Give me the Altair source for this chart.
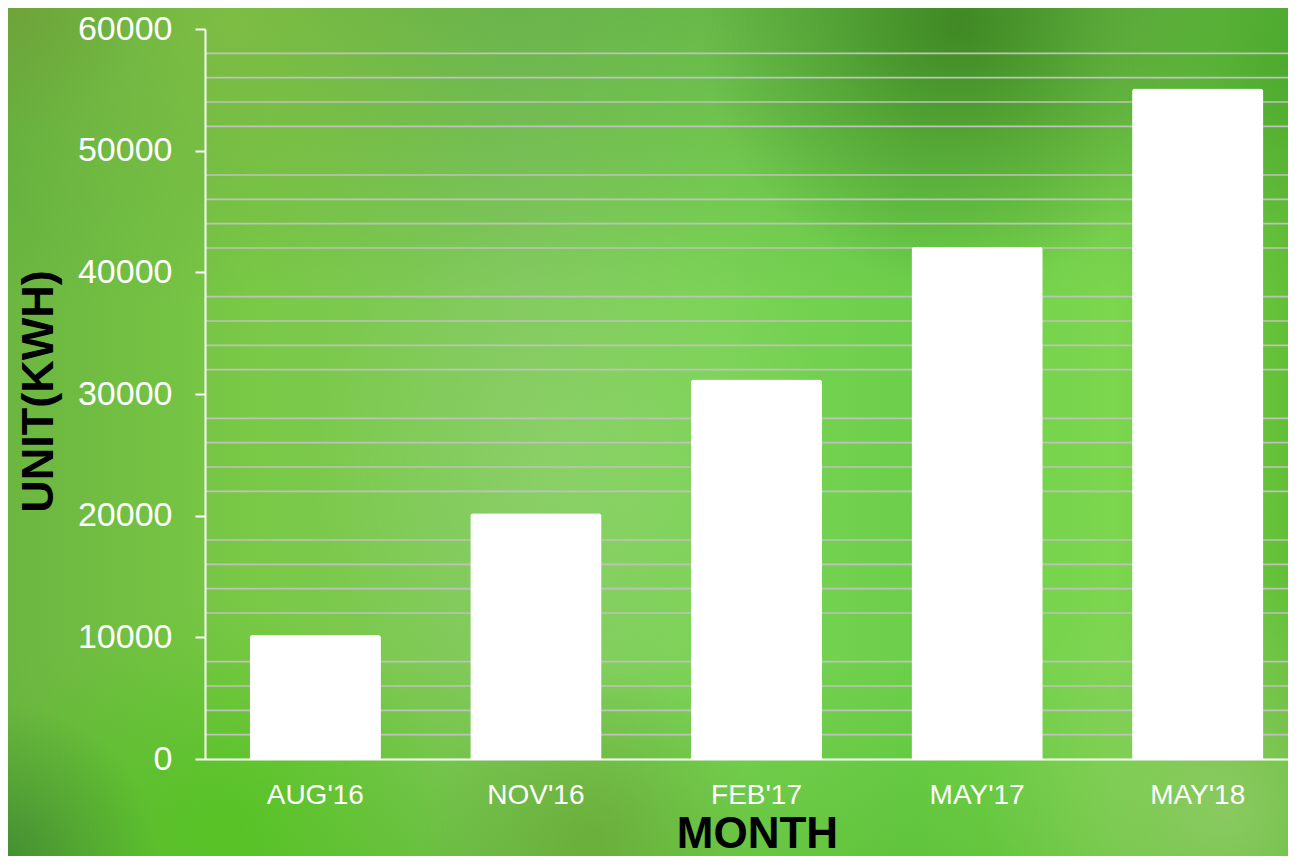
import altair as alt
import pandas as pd

# ---------------- data ----------------
months = ["AUG'16", "NOV'16", "FEB'17", "MAY'17", "MAY'18"]
units = [10200, 20200, 31200, 42100, 55100]
y_ticks = [0, 10000, 20000, 30000, 40000, 50000, 60000]
grid_values = [2000, 4000, 6000, 8000, 12000, 14000, 16000, 18000,
               22000, 24000, 26000, 28000, 32000, 34000, 36000, 38000,
               42000, 44000, 46000, 48000, 52000, 54000, 56000, 58000]

bars_df = pd.DataFrame({"month": months, "units": units})
grid_df = pd.DataFrame({"units": grid_values})
one = pd.DataFrame({"d": [0]})

FONT = "Liberation Sans"
OX, OY = 205, 29          # page coordinates of plot origin
PLOT_W, PLOT_H = 1083, 759 - 29

yscale = alt.Scale(domain=[0, 60000], nice=False, zero=True)
yaxis = alt.Axis(
    values=y_ticks, format="d", title="UNIT(KWH)", titleFont=FONT,
    titleFontSize=45, titleFontWeight="bold", titleColor="black",
    titleAngle=270, titleX=38 - OX, titleY=391 - OY,
    titleAlign="center", titleBaseline="middle",
    labelFont=FONT, labelFontSize=34, labelColor="white",
    labelPadding=23, tickSize=10, tickWidth=2, tickColor="white",
    domainColor="white", domainWidth=2, grid=False, zindex=1)


def deco(px0, py0, px1, py1, fill):
    """Decorative background rectangle given in page pixels."""
    return alt.Chart(one).mark_rect(color=fill, strokeWidth=0).encode(
        x=alt.value(px0 - OX), x2=alt.value(px1 - OX),
        y=alt.value(py0 - OY), y2=alt.value(py1 - OY),
    )


def spot(cx, cy, r, rgb, a):
    c_in = "rgba(%d,%d,%d,%.2f)" % (rgb + (a,))
    c_mid = "rgba(%d,%d,%d,%.2f)" % (rgb + (a * 0.45,))
    c_out = "rgba(%d,%d,%d,0)" % rgb
    g = alt.RadialGradient(
        gradient="radial", x1=0.5, y1=0.5, r1=0, x2=0.5, y2=0.5, r2=0.5,
        stops=[alt.GradientStop(offset=0, color=c_in),
               alt.GradientStop(offset=0.5, color=c_mid),
               alt.GradientStop(offset=1, color=c_out)])
    return deco(cx - r, cy - r, cx + r, cy + r, g)


def lin(stops, x1=0, y1=0, x2=1, y2=0):
    return alt.LinearGradient(
        gradient="linear", x1=x1, y1=y1, x2=x2, y2=y2,
        stops=[alt.GradientStop(offset=o, color=c) for o, c in stops])


background_layers = [
    deco(-10, -10, 1310, 880, lin([
        (0.0, "#6bb540"), (0.2, "#79c946"), (0.4, "#82c95e"),
        (0.55, "#7bd356"), (0.7, "#6ccf4a"), (0.85, "#7cd64e"), (1.0, "#5fbd33")])),
    deco(-10, -10, 1310, 880, lin([
        (0.0, "rgba(85,160,60,0.55)"), (0.35, "rgba(85,160,60,0)"),
        (1.0, "rgba(85,160,60,0)")], x1=0, y1=0, x2=0, y2=1)),
    deco(-10, -10, 1310, 880, lin([
        (0.0, "rgba(80,180,40,0)"), (0.75, "rgba(80,180,40,0)"),
        (1.0, "rgba(80,180,40,0.45)")], x1=0, y1=0, x2=0, y2=1)),
    spot(230, 20, 280, (140, 195, 70), 0.6),
    spot(0, 0, 140, (115, 160, 55), 0.8),
    spot(960, 25, 260, (55, 125, 28), 0.8),
    spot(1290, 60, 170, (65, 165, 38), 0.6),
    spot(575, 470, 260, (150, 215, 115), 0.45),
    spot(225, 830, 230, (80, 195, 30), 0.75),
    spot(0, 864, 160, (60, 130, 50), 0.8),
    spot(590, 840, 170, (105, 160, 50), 0.6),
    spot(1225, 810, 240, (155, 205, 115), 0.7),
]

grid = alt.Chart(grid_df).mark_rule(color="#bfc2bb", strokeWidth=1.6).encode(
    y=alt.Y("units:Q", scale=yscale, axis=yaxis),
    x=alt.value(0), x2=alt.value(1296 - OX),
)

bars = alt.Chart(bars_df).mark_bar(
    color="white", cornerRadiusTopLeft=3, cornerRadiusTopRight=3
).encode(
    x=alt.X("month:N", sort=months,
            scale=alt.Scale(range=[0, 1103], paddingInner=0.405, paddingOuter=0.2025),
            axis=alt.Axis(
                title="MONTH", titleFont=FONT, titleFontSize=44, titleFontWeight="bold",
                titleColor="black", titleX=757 - OX, titleY=88,
                titleAlign="center", titleBaseline="alphabetic",
                labelFont=FONT, labelFontSize=28, labelColor="white", labelAngle=0,
                labelPadding=22, ticks=False, tickSize=0,
                domainColor="white", domainWidth=2, grid=False, zindex=1)),
    y=alt.Y("units:Q", scale=yscale, axis=yaxis),
)

chart = alt.layer(*background_layers, grid, bars).properties(
    width=PLOT_W, height=PLOT_H,
    autosize=alt.AutoSizeParams(type="none"),
    padding={"left": OX - 8, "top": OY - 8, "right": 0, "bottom": 856 - (OY + PLOT_H)},
    background="#66bb44",
).configure_view(stroke=None)

chart.save("out.html", embed_options={"renderer": "svg", "actions": False})
